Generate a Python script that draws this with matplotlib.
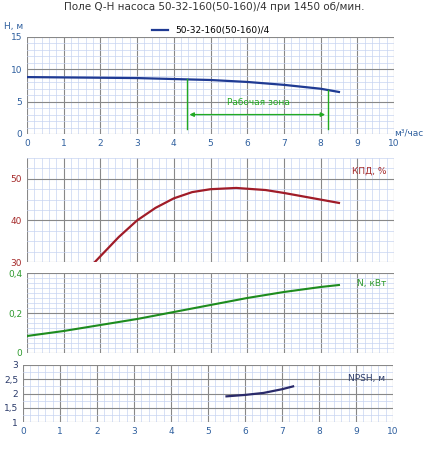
import numpy as np
import matplotlib.pyplot as plt
from matplotlib.ticker import MultipleLocator, FuncFormatter

q_h = [0, 1, 2, 3, 4, 5, 6, 7, 8, 8.5]
h = [8.8, 8.75, 8.7, 8.65, 8.5, 8.35, 8.05, 7.6, 7.0, 6.5]
q_eff = [1.85, 2.5, 3, 3.5, 4, 4.5, 5, 5.7, 6.5, 7, 8, 8.5]
eff = [30, 36, 40, 43, 45.3, 46.8, 47.5, 47.8, 47.3, 46.6, 45.0, 44.2]
q_n = [0, 1, 2, 3, 4, 5, 6, 7, 8, 8.5]
n = [0.085, 0.11, 0.14, 0.17, 0.205, 0.24, 0.275, 0.305, 0.33, 0.34]
q_npsh = [5.5, 6, 6.5, 7, 7.3]
npsh = [1.9, 1.95, 2.02, 2.15, 2.25]
zone = [4.35, 8.2]

W, H = 428, 450
fig = plt.figure(figsize=(W / 100, H / 100), dpi=100)
tick_blue = '#2e5f9e'

def ax_at(x0, y0, x1, y1):
    return fig.add_axes([x0 / W, 1 - y1 / H, (x1 - x0) / W, (y1 - y0) / H])

def style(ax, ylim, ymajor, yminor, ycolor, xlabels):
    ax.set_xlim(0, 10)
    ax.set_ylim(*ylim)
    ax.xaxis.set_major_locator(MultipleLocator(1))
    ax.xaxis.set_minor_locator(MultipleLocator(0.2))
    ax.yaxis.set_major_locator(MultipleLocator(ymajor))
    ax.yaxis.set_minor_locator(MultipleLocator(yminor))
    ax.grid(which='major', color='#888888', lw=0.8)
    ax.grid(which='minor', color='#c8d4f2', lw=0.5)
    ax.set_axisbelow(True)
    for s in ax.spines.values():
        s.set_visible(False)
    ax.tick_params(which='both', length=0, labelsize=6.5)
    ax.tick_params(axis='y', colors=ycolor)
    ax.tick_params(axis='x', colors=tick_blue, labelbottom=xlabels)
    ax.yaxis.set_major_formatter(FuncFormatter(lambda v, p: ('%g' % v).replace('.', ',')))

ax1 = ax_at(27, 37, 394, 134)
style(ax1, (0, 15), 5, 1, tick_blue, True)
ax1.plot(q_h, h, color='#1f3a93', lw=1.6, label='50-32-160(50-160)/4')
for z in zone:
    ax1.plot([z, z], [np.interp(z, q_h, h), 0.8], color='#22aa22', lw=1)
ax1.annotate('', xy=(zone[0], 3.0), xytext=(zone[1], 3.0),
             arrowprops=dict(arrowstyle='<|-|>', color='#22aa22', lw=1, mutation_scale=6))
ax1.text(6.3, 4.5, 'Рабочая зона', color='#22aa22', fontsize=6.5, ha='center')
ax1.text(-0.01, 1.08, 'H, м', transform=ax1.transAxes, color=tick_blue, fontsize=6.5, ha='right')
ax1.text(1.0, -0.02, 'м³/час', transform=ax1.transAxes, color=tick_blue, fontsize=6.5, ha='left')
ax1.legend(loc='lower center', bbox_to_anchor=(0.5, 0.97), frameon=False, fontsize=6.5,
           handlelength=1.8, borderpad=0)
fig.text(0.5, 1 - 10 / H, 'Поле Q-H насоса 50-32-160(50-160)/4 при 1450 об/мин.',
         ha='center', fontsize=7.5, color='#333333')

ax2 = ax_at(27, 158, 394, 262)
style(ax2, (30, 55), 10, 2.5, '#a52a2a', False)
ax2.plot(q_eff, eff, color='#a01c28', lw=1.6)
ax2.text(0.98, 0.92, 'КПД, %', transform=ax2.transAxes, color='#a52a2a', fontsize=6.5, ha='right', va='top')

ax3 = ax_at(27, 273, 394, 353)
style(ax3, (0, 0.4), 0.2, 0.025, '#2e9a2e', False)
ax3.plot(q_n, n, color='#1e8c1e', lw=1.5)
ax3.text(0.98, 0.92, 'N, кВт', transform=ax3.transAxes, color='#2e9a2e', fontsize=6.5, ha='right', va='top')

ax4 = ax_at(23, 365, 393, 422)
style(ax4, (1, 3), 0.5, 0.25, '#2a3a6a', True)
ax4.plot(q_npsh, npsh, color='#2a2a6a', lw=1.6)
ax4.text(0.98, 0.85, 'NPSH, м', transform=ax4.transAxes, color='#2a3a6a', fontsize=6.5, ha='right', va='top')

fig.savefig('out.png', dpi=100)
